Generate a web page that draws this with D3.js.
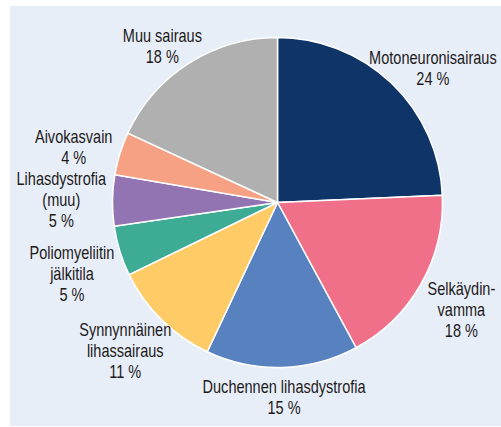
<!DOCTYPE html>
<html>
<head>
<meta charset="utf-8">
<script src="https://cdn.jsdelivr.net/npm/d3@7"></script>
<style>
  body { margin: 0; background: #fff; }
  text { font-family: "Liberation Sans", Arial, sans-serif; font-size: 17.5px; fill: #1c1a1a; }
</style>
</head>
<body>
<div class="pie-chart"></div>
<script>
// data (shares, labels show them rounded)
const labels = [
  ['Motoneuronisairaus'],
  ['Selkäydin-', 'vamma'],
  ['Duchennen lihasdystrofia'],
  ['Synnynnäinen', 'lihassairaus'],
  ['Poliomyeliitin', 'jälkitila'],
  ['Lihasdystrofia', '(muu)'],
  ['Aivokasvain'],
  ['Muu sairaus']
]
const values = [24.3, 17.8, 14.9, 10.8, 4.9, 5.0, 4.2, 18.1]
const colors = ['#0f3468', '#f0708a', '#5781bf', '#fecb66', '#3eab95', '#9374b3', '#f6a183', '#b0b0b0']

const width = 501, height = 427
const cx = 277.5, cy = 202.5, r = 165
const lineH = 21
const squeeze = 0.83   // condensed look

const svg = d3.select('.pie-chart')
  .append('svg')
  .attr('width', width)
  .attr('height', height)

svg.append('rect')
  .attr('x', 10).attr('y', 6)
  .attr('width', width - 10).attr('height', 420)
  .attr('fill', '#e8eef8')

const g = svg.append('g')
  .attr('transform', `translate(${cx}, ${cy})`)

const pie = d3.pie().sort(null).value(d => d)
const arcs = pie(values)
const arc = d3.arc().innerRadius(0).outerRadius(r)

g.selectAll('path')
  .data(arcs)
  .enter()
  .append('path')
  .attr('d', arc)
  .attr('fill', (d, i) => colors[i])
  .attr('stroke', '#fff')
  .attr('stroke-width', 1.5)

// labels: on a ring outside the rim, pushed out by part of the block size
const labelG = g.selectAll('.pie-label')
  .data(arcs)
  .enter()
  .append('text')
  .attr('class', 'pie-label')
  .attr('text-anchor', 'middle')

labelG.each(function(d, i){
  const lines = labels[i].concat([Math.round(values[i]) + ' %'])
  const t = d3.select(this)
  lines.forEach((l, j) => {
    t.append('tspan')
      .attr('x', 0)
      .attr('y', (j - (lines.length - 1) / 2) * lineH)
      .attr('dy', '0.35em')
      .text(l)
  })
  const bb = this.getBBox()
  const w = bb.width * squeeze
  const h = (lines.length - 1) * lineH + 13
  const a = (d.startAngle + d.endAngle) / 2
  const s = Math.sin(a), c = Math.cos(a)
  const x = s * (196 + 0.45 * w / 2)
  const y = -c * 185 + (c < 0 ? 0.6 * h / 2 : 0)
  t.attr('transform', `translate(${x}, ${y}) scale(${squeeze}, 1)`)
})
</script>
</body>
</html>
